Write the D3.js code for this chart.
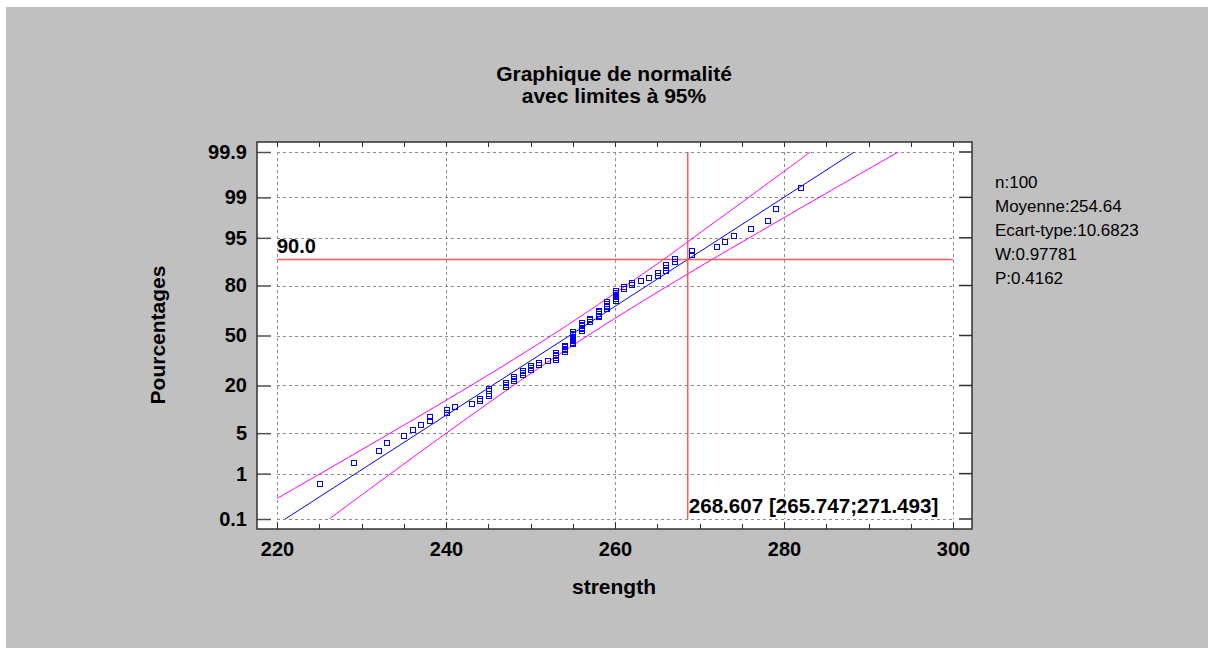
<!DOCTYPE html>
<html>
<head>
<meta charset="utf-8">
<script src="https://cdn.jsdelivr.net/npm/d3@7"></script>
<style>
  html, body { margin: 0; padding: 0; background: #ffffff; }
  svg { display: block; font-family: "Liberation Sans", Arial, sans-serif; }
</style>
</head>
<body>
<div id="chart"></div>
<script>
// sorted strength values
var strength = [
  225, 229, 232, 233, 235, 236, 237, 238, 238, 240,
  240, 241, 243, 244, 244, 245, 245, 245, 245, 247,
  247, 247, 248, 248, 248, 249, 249, 249, 250, 250,
  250, 251, 251, 252, 253, 253, 253, 253, 253, 254,
  254, 254, 254, 254, 255, 255, 255, 255, 255, 255,
  255, 255, 255, 256, 256, 256, 256, 256, 256, 257,
  257, 257, 258, 258, 258, 258, 258, 259, 259, 259,
  259, 259, 260, 260, 260, 260, 260, 260, 261, 261,
  262, 262, 263, 264, 265, 265, 266, 266, 266, 267,
  267, 269, 269, 272, 273, 274, 276, 278, 279, 282
];

var yTickPct = [0.1, 1, 5, 20, 50, 80, 95, 99, 99.9];
var yTickLabels = ['0.1', '1', '5', '20', '50', '80', '95', '99', '99.9'];
var xTicks = [220, 240, 260, 280, 300];

// fitted normal line (two ends)
var fitPct = [0.1, 99.9];
var fitStrength = [220.97, 288.32];

// 95% limits
var bandPct = [0.1, 0.5, 1, 2, 5, 10, 20, 30, 50, 70, 80, 90, 95, 98, 99, 99.5, 99.9];
var bandLow = [215.76, 222.07, 225.12, 228.44, 233.39, 237.75, 242.95, 246.62, 252.48, 258.05, 261.30, 265.75, 269.25, 273.20, 275.82, 278.21, 283.11];
var bandHigh = [226.17, 231.07, 233.46, 236.08, 240.03, 243.59, 247.98, 251.23, 256.80, 262.66, 266.33, 271.49, 275.89, 280.84, 284.16, 287.21, 293.52];

var statLines = ['n:100', 'Moyenne:254.64', 'Ecart-type:10.6823', 'W:0.97781', 'P:0.4162'];

var crossPct = 90.0;
var crossValue = 268.607;
var crossInterval = [265.747, 271.493];

(function() {

  "use strict";

  var width = 1212;
  var height = 657;

  var frame = { left: 257, right: 972, top: 142, bottom: 529 };
  var inner = { left: 277, right: 953, top: 152, bottom: 519 };

  // inverse normal cdf (Acklam)
  function probit(p) {
    var a = [-3.969683028665376e+01, 2.209460984245205e+02, -2.759285104469687e+02, 1.383577518672690e+02, -3.066479806614716e+01, 2.506628277459239e+00];
    var b = [-5.447609879822406e+01, 1.615858368580409e+02, -1.556989798598866e+02, 6.680131188771972e+01, -1.328068155288572e+01];
    var c = [-7.784894002430293e-03, -3.223964580411365e-01, -2.400758277161838e+00, -2.549732539343734e+00, 4.374664141464968e+00, 2.938163982698783e+00];
    var d = [7.784695709041462e-03, 3.224671290700398e-01, 2.445134137142996e+00, 3.754408661907416e+00];
    var pl = 0.02425, q, r;
    if (p < pl) {
      q = Math.sqrt(-2 * Math.log(p));
      return (((((c[0] * q + c[1]) * q + c[2]) * q + c[3]) * q + c[4]) * q + c[5]) /
        ((((d[0] * q + d[1]) * q + d[2]) * q + d[3]) * q + 1);
    }
    if (p > 1 - pl) {
      q = Math.sqrt(-2 * Math.log(1 - p));
      return -(((((c[0] * q + c[1]) * q + c[2]) * q + c[3]) * q + c[4]) * q + c[5]) /
        ((((d[0] * q + d[1]) * q + d[2]) * q + d[3]) * q + 1);
    }
    q = p - 0.5;
    r = q * q;
    return (((((a[0] * r + a[1]) * r + a[2]) * r + a[3]) * r + a[4]) * r + a[5]) * q /
      (((((b[0] * r + b[1]) * r + b[2]) * r + b[3]) * r + b[4]) * r + 1);
  }

  function zOf(pct) {
    return probit(pct / 100);
  }

  var x = d3.scaleLinear().domain([220, 300]).range([inner.left, inner.right]);
  var y = d3.scaleLinear().domain([zOf(0.1), zOf(99.9)]).range([inner.bottom, inner.top]);

  function yPct(pct) {
    return y(zOf(pct));
  }

  var svg = d3.select('#chart').append('svg')
    .attr('width', width)
    .attr('height', height);

  // backgrounds
  svg.append('rect')
    .attr('x', 6).attr('y', 7)
    .attr('width', 1202).attr('height', 641)
    .attr('fill', '#c0c0c0');

  svg.append('rect')
    .attr('x', frame.left).attr('y', frame.top)
    .attr('width', frame.right - frame.left).attr('height', frame.bottom - frame.top)
    .attr('fill', '#ffffff');

  // title
  var title = svg.append('text')
    .attr('x', 614)
    .attr('text-anchor', 'middle')
    .attr('font-weight', 'bold')
    .attr('font-size', '21px')
    .attr('fill', '#000');
  title.append('tspan').attr('x', 614).attr('y', 81).text('Graphique de normalité');
  title.append('tspan').attr('x', 614).attr('y', 103).text('avec limites à 95%');

  // grid
  var grid = svg.append('g')
    .attr('stroke', '#8c8c8c')
    .attr('stroke-width', 1)
    .attr('stroke-dasharray', '3,3');

  grid.selectAll('line.v')
    .data(xTicks)
    .enter().append('line')
    .attr('class', 'v')
    .attr('x1', function(d) { return Math.round(x(d)) + 0.5; })
    .attr('x2', function(d) { return Math.round(x(d)) + 0.5; })
    .attr('y1', inner.top)
    .attr('y2', inner.bottom);

  grid.selectAll('line.h')
    .data(yTickPct)
    .enter().append('line')
    .attr('class', 'h')
    .attr('x1', inner.left)
    .attr('x2', inner.right)
    .attr('y1', function(d) { return Math.round(yPct(d)) + 0.5; })
    .attr('y2', function(d) { return Math.round(yPct(d)) + 0.5; });

  // clipped curves
  svg.append('clipPath')
    .attr('id', 'plotClip')
    .append('rect')
    .attr('x', inner.left).attr('y', inner.top)
    .attr('width', inner.right - inner.left).attr('height', inner.bottom - inner.top);

  var curves = svg.append('g').attr('clip-path', 'url(#plotClip)');

  var bandLine = d3.line()
    .x(function(d) { return x(d[0]); })
    .y(function(d) { return yPct(d[1]); })
    .curve(d3.curveCatmullRom);

  curves.append('path')
    .datum(bandPct.map(function(p, i) { return [bandLow[i], p]; }))
    .attr('d', bandLine)
    .attr('fill', 'none')
    .attr('stroke', '#ff00ff')
    .attr('stroke-width', 1);

  curves.append('path')
    .datum(bandPct.map(function(p, i) { return [bandHigh[i], p]; }))
    .attr('d', bandLine)
    .attr('fill', 'none')
    .attr('stroke', '#ff00ff')
    .attr('stroke-width', 1);

  curves.append('path')
    .datum(fitPct.map(function(p, i) { return [fitStrength[i], p]; }))
    .attr('d', bandLine)
    .attr('fill', 'none')
    .attr('stroke', '#0000ff')
    .attr('stroke-width', 1);

  // crosshair
  svg.append('line')
    .attr('x1', inner.left).attr('x2', inner.right)
    .attr('y1', yPct(crossPct)).attr('y2', yPct(crossPct))
    .attr('stroke', '#ff5a5a')
    .attr('stroke-width', 1.5);

  svg.append('line')
    .attr('x1', x(crossValue)).attr('x2', x(crossValue))
    .attr('y1', inner.top).attr('y2', inner.bottom)
    .attr('stroke', '#ff5a5a')
    .attr('stroke-width', 1.5);

  // points (Blom plotting positions)
  var n = strength.length;
  var boxSize = 5;
  svg.append('g')
    .selectAll('rect')
    .data(strength)
    .enter().append('rect')
    .attr('x', function(d) { return Math.round(x(d) - boxSize / 2) + 0.5; })
    .attr('y', function(d, i) {
      var pct = (i + 1 - 0.375) / (n + 0.25) * 100;
      return Math.round(yPct(pct) - boxSize / 2) + 0.5;
    })
    .attr('width', boxSize)
    .attr('height', boxSize)
    .attr('fill', 'none')
    .attr('stroke', '#0000ff')
    .attr('stroke-width', 1);

  // crosshair labels
  svg.append('text')
    .attr('x', inner.left)
    .attr('y', yPct(crossPct) - 6)
    .attr('font-weight', 'bold')
    .attr('font-size', '20px')
    .text(d3.format('.1f')(crossPct));

  svg.append('text')
    .attr('x', x(crossValue) + 1)
    .attr('y', inner.bottom - 6)
    .attr('font-weight', 'bold')
    .attr('font-size', '20.6px')
    .text(d3.format('.3f')(crossValue) + ' [' + d3.format('.3f')(crossInterval[0]) + ';' + d3.format('.3f')(crossInterval[1]) + ']');

  // axes
  var minorX = d3.range(220, 301, 5);

  var xAxis = d3.axisBottom(x)
    .tickValues(xTicks)
    .tickSizeInner(-7)
    .tickSizeOuter(0)
    .tickPadding(13)
    .tickFormat(d3.format('d'));

  var gx = svg.append('g')
    .attr('transform', 'translate(0,' + frame.bottom + ')')
    .call(xAxis);
  gx.select('.domain').remove();
  gx.selectAll('.tick line').attr('stroke', '#303030');
  gx.selectAll('.tick text')
    .attr('font-size', '20px')
    .attr('font-weight', 'bold')
    .attr('font-family', '"Liberation Sans", Arial, sans-serif')
    .attr('fill', '#000');

  var yAxis = d3.axisLeft(y)
    .tickValues(yTickPct.map(zOf))
    .tickSizeInner(-14)
    .tickSizeOuter(0)
    .tickPadding(10)
    .tickFormat(function(d, i) { return yTickLabels[i]; });

  var gy = svg.append('g')
    .attr('transform', 'translate(' + frame.left + ',0)')
    .call(yAxis);
  gy.select('.domain').remove();
  gy.selectAll('.tick line').attr('stroke', '#505050').attr('stroke-width', 1.5);
  gy.selectAll('.tick text')
    .attr('font-size', '20px')
    .attr('font-weight', 'bold')
    .attr('font-family', '"Liberation Sans", Arial, sans-serif')
    .attr('fill', '#000');

  // right side ticks
  svg.append('g')
    .selectAll('line')
    .data(yTickPct)
    .enter().append('line')
    .attr('x1', frame.right - 13).attr('x2', frame.right)
    .attr('y1', function(d) { return yPct(d); })
    .attr('y2', function(d) { return yPct(d); })
    .attr('stroke', '#303030')
    .attr('stroke-width', 1.5);

  // minor ticks top / bottom
  var minor = svg.append('g').attr('stroke', '#303030').attr('stroke-width', 1);
  minor.selectAll('line.t')
    .data(minorX)
    .enter().append('line')
    .attr('class', 't')
    .attr('x1', function(d) { return Math.round(x(d)) + 0.5; })
    .attr('x2', function(d) { return Math.round(x(d)) + 0.5; })
    .attr('y1', frame.top)
    .attr('y2', frame.top + 5);
  minor.selectAll('line.b')
    .data(minorX)
    .enter().append('line')
    .attr('class', 'b')
    .attr('x1', function(d) { return Math.round(x(d)) + 0.5; })
    .attr('x2', function(d) { return Math.round(x(d)) + 0.5; })
    .attr('y1', frame.bottom - 5)
    .attr('y2', frame.bottom);

  // frame
  svg.append('rect')
    .attr('x', frame.left).attr('y', frame.top)
    .attr('width', frame.right - frame.left).attr('height', frame.bottom - frame.top)
    .attr('fill', 'none')
    .attr('stroke', '#303030')
    .attr('stroke-width', 1.5);

  // axis titles
  svg.append('text')
    .attr('x', 614)
    .attr('y', 594)
    .attr('text-anchor', 'middle')
    .attr('font-weight', 'bold')
    .attr('font-size', '21px')
    .text('strength');

  svg.append('text')
    .attr('transform', 'translate(165,335) rotate(-90)')
    .attr('text-anchor', 'middle')
    .attr('font-weight', 'bold')
    .attr('font-size', '21px')
    .text('Pourcentages');

  // stats block
  svg.append('g')
    .selectAll('text')
    .data(statLines)
    .enter().append('text')
    .attr('x', 995)
    .attr('y', function(d, i) { return 188 + i * 24; })
    .attr('font-size', '17px')
    .attr('fill', '#000')
    .text(function(d) { return d; });

})();
</script>
</body>
</html>
